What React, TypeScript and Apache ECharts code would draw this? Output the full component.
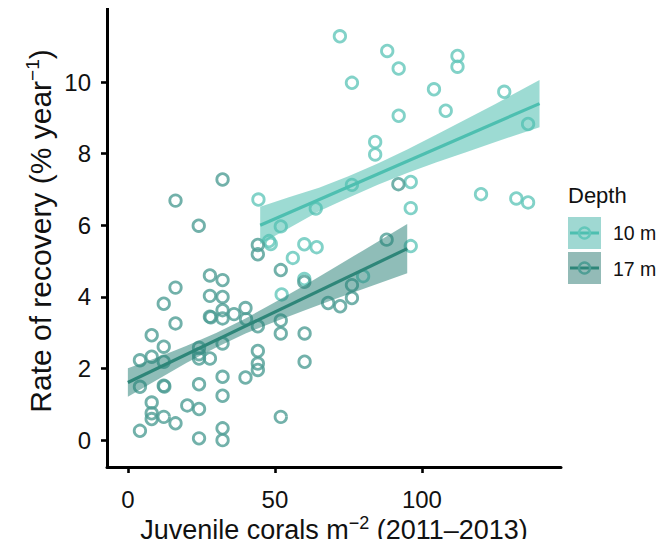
import React, { useEffect, useRef } from "react";
import * as echarts from "echarts";

// ---- data ----
const xTicks = [0, 50, 100];
const yTicks = [0, 2, 4, 6, 8, 10];

const shallowPoints: number[][] = [
  [44.4, 6.72], [52, 5.97], [63.9, 6.47], [48, 5.56], [48.6, 5.48], [60, 5.47],
  [64.2, 5.39], [56.1, 5.09], [52.3, 4.07], [60, 4.5], [80, 4.58], [96.2, 5.42],
  [72.1, 11.28], [88.2, 10.87], [92.1, 10.38], [112.1, 10.73], [112.1, 10.43],
  [76.2, 9.98], [104.1, 9.8], [128, 9.73], [108.1, 9.2], [92.1, 9.06], [136.1, 8.83],
  [84.1, 8.33], [84.1, 7.98], [76.2, 7.13], [96.2, 7.21], [120.1, 6.87],
  [132.1, 6.75], [136.1, 6.64], [96.2, 6.48],
];

const deepPoints: number[][] = [
  [32.2, 7.28], [16.2, 6.69], [24.1, 5.99], [44.2, 5.45], [44.2, 5.19], [52, 4.75],
  [60, 4.42], [88, 5.6], [92, 7.15], [76.2, 4.33], [76.2, 3.97], [68.1, 3.83],
  [72.2, 3.74], [27.9, 4.6], [32.2, 4.47], [16.2, 4.26], [27.9, 4.03], [32.2, 4.0],
  [12.2, 3.81], [32.2, 3.63], [27.9, 3.45], [28.2, 3.43], [32.2, 3.4], [36.1, 3.52],
  [40, 3.69], [40.2, 3.38], [44.2, 3.18], [52, 3.34], [52, 2.98], [60.1, 2.98],
  [60.1, 2.19], [44.2, 2.49], [44.2, 2.14], [44.2, 1.96], [40, 1.75], [52, 0.65],
  [16.2, 3.26], [8.1, 2.93], [12.2, 2.61], [32.2, 2.7], [24.2, 2.58], [24.2, 2.4],
  [24.2, 2.28], [27.9, 2.28], [8.1, 2.33], [4.1, 2.23], [12.2, 2.19], [4.1, 1.49],
  [12.2, 1.52], [12.4, 1.5], [24.2, 1.56], [32.2, 1.77], [32.2, 1.24], [8.1, 1.05],
  [20.2, 0.97], [24.2, 0.87], [8.1, 0.75], [8.1, 0.59], [12.2, 0.65], [16.2, 0.47],
  [4.1, 0.26], [24.2, 0.05], [32.2, 0.33], [32.2, 0.0],
];

const shallowFit: number[][] = [[45, 6.0], [140, 9.4]];
const deepFit: number[][] = [[0, 1.61], [95, 5.35]];

const shallowBandX = [45, 55, 65, 75, 85, 95, 105, 115, 125, 140];
const shallowBandLo = [5.48, 5.93, 6.39, 6.77, 7.13, 7.46, 7.76, 8.04, 8.33, 8.74];
const shallowBandHi = [6.52, 6.79, 7.05, 7.37, 7.73, 8.12, 8.54, 8.96, 9.39, 10.06];

const deepBandX = [0, 10, 20, 30, 40, 50, 60, 70, 80, 95];
const deepBandLo = [1.21, 1.69, 2.16, 2.59, 2.98, 3.31, 3.62, 3.93, 4.22, 4.66];
const deepBandHi = [2.01, 2.31, 2.64, 2.99, 3.4, 3.85, 4.32, 4.81, 5.3, 6.04];

const groups = ["10 m", "17 m"];

// ---- styles ----
const FONT = "'Liberation Sans', Arial, Helvetica, sans-serif";
const C10_POINT = "#63C7BA";
const C17_POINT = "#4F9E95";
const C10_LINE = "#4DBFB0";
const C17_LINE = "#2E8679";
const C10_BAND = "rgba(77,189,174,0.55)";
const C17_BAND = "rgba(40,128,118,0.52)";
const C10_KEY = "#9FD8D2";
const C17_KEY = "#93BBB7";

function bandSeries(xs: number[], lo: number[], hi: number[], fill: string) {
  const rows = xs.map((x, i) => [x, lo[i], hi[i]]);
  return {
    type: "custom",
    data: rows,
    encode: { x: 0, y: [1, 2] },
    z: 3,
    silent: true,
    renderItem: (params: any, api: any) => {
      if (params.dataIndex !== 0) return null;
      const pts: number[][] = [];
      rows.forEach((r) => pts.push(api.coord([r[0], r[2]])));
      for (let i = rows.length - 1; i >= 0; i--) pts.push(api.coord([rows[i][0], rows[i][1]]));
      return { type: "polygon", shape: { points: pts, smooth: 0 }, style: { fill, stroke: "none" } };
    },
  };
}

export default function App() {
  const ref = useRef<HTMLDivElement>(null);
  useEffect(() => {
    if (!ref.current) return;
    const chart = echarts.init(ref.current, undefined, { renderer: "svg" });
    const axisCommon = {
      type: "value",
      splitLine: { show: false },
      axisLine: { show: true, onZero: false, lineStyle: { color: "#000", width: 3 } },
      axisTick: { show: true, inside: false, length: 6, lineStyle: { color: "#000", width: 2.6 } },
    };
    const option: any = {
      animation: false,
      backgroundColor: "#fff",
      grid: { left: 107, right: 111, top: 8, bottom: 80, containLabel: false, outerBoundsMode: "none" },
      xAxis: {
        ...axisCommon,
        min: -7.1,
        max: 147.3,
        axisTick: { ...axisCommon.axisTick, customValues: xTicks },
        axisLabel: { customValues: xTicks, fontSize: 24, color: "#111", fontFamily: FONT, margin: 20 },
      },
      yAxis: {
        ...axisCommon,
        min: -0.75,
        max: 12.07,
        axisTick: { ...axisCommon.axisTick, customValues: yTicks },
        axisLabel: { customValues: yTicks, fontSize: 24, color: "#111", fontFamily: FONT, margin: 16 },
      },
      series: [
        {
          name: groups[0],
          type: "scatter",
          data: shallowPoints,
          symbol: "circle",
          symbolSize: 11.5,
          z: 2,
          itemStyle: { color: "rgba(0,0,0,0)", borderColor: C10_POINT, borderWidth: 2.8 },
        },
        {
          name: groups[1],
          type: "scatter",
          data: deepPoints,
          symbol: "circle",
          symbolSize: 11.5,
          z: 2,
          itemStyle: { color: "rgba(0,0,0,0)", borderColor: C17_POINT, borderWidth: 2.8 },
        },
        bandSeries(shallowBandX, shallowBandLo, shallowBandHi, C10_BAND),
        bandSeries(deepBandX, deepBandLo, deepBandHi, C17_BAND),
        {
          type: "line",
          data: shallowFit,
          showSymbol: false,
          symbol: "none",
          z: 4,
          lineStyle: { color: C10_LINE, width: 3.2 },
        },
        {
          type: "line",
          data: deepFit,
          showSymbol: false,
          symbol: "none",
          z: 4,
          lineStyle: { color: C17_LINE, width: 3.2 },
        },
      ],
      graphic: [
        {
          type: "text",
          x: 334,
          y: 530,
          style: {
            text: "{a|Juvenile corals m}{s|−2}{a| (2011–2013)}",
            align: "center",
            verticalAlign: "middle",
            fill: "#111",
            rich: {
              a: { fontSize: 27, fontFamily: FONT, fill: "#111", lineHeight: 32 },
              s: { fontSize: 18, fontFamily: FONT, fill: "#111", verticalAlign: "top", lineHeight: 18 },
            },
          },
        },
        {
          type: "text",
          x: 40,
          y: 231,
          rotation: Math.PI / 2,
          style: {
            text: "{a|Rate of recovery (% year}{s|−1}{a|)}",
            align: "center",
            verticalAlign: "middle",
            fill: "#111",
            rich: {
              a: { fontSize: 30, fontFamily: FONT, fill: "#111", lineHeight: 34 },
              s: { fontSize: 19, fontFamily: FONT, fill: "#111", verticalAlign: "top", lineHeight: 19 },
            },
          },
        },
        // legend
        {
          type: "text",
          x: 568,
          y: 195,
          style: { text: "Depth", fontSize: 22, fontFamily: FONT, fill: "#111", verticalAlign: "middle" },
        },
        { type: "rect", shape: { x: 568, y: 217, width: 33, height: 32 }, style: { fill: C10_KEY } },
        { type: "rect", shape: { x: 568, y: 252, width: 33, height: 32 }, style: { fill: C17_KEY } },
        { type: "line", shape: { x1: 570, y1: 233, x2: 599, y2: 233 }, style: { stroke: C10_LINE, lineWidth: 3 } },
        { type: "line", shape: { x1: 570, y1: 268, x2: 599, y2: 268 }, style: { stroke: C17_LINE, lineWidth: 3 } },
        { type: "circle", shape: { cx: 584.5, cy: 233, r: 5.5 }, style: { fill: "none", stroke: C10_POINT, lineWidth: 2.4 } },
        { type: "circle", shape: { cx: 584.5, cy: 268, r: 5.5 }, style: { fill: "none", stroke: C17_POINT, lineWidth: 2.4 } },
        {
          type: "text",
          x: 613,
          y: 233,
          style: { text: groups[0], fontSize: 19.5, fontFamily: FONT, fill: "#111", verticalAlign: "middle" },
        },
        {
          type: "text",
          x: 613,
          y: 269,
          style: { text: groups[1], fontSize: 19.5, fontFamily: FONT, fill: "#111", verticalAlign: "middle" },
        },
      ],
    };
    chart.setOption(option);
    return () => chart.dispose();
  }, []);
  return <div ref={ref} style={{ width: 672, height: 547, margin: -8 }} />;
}
